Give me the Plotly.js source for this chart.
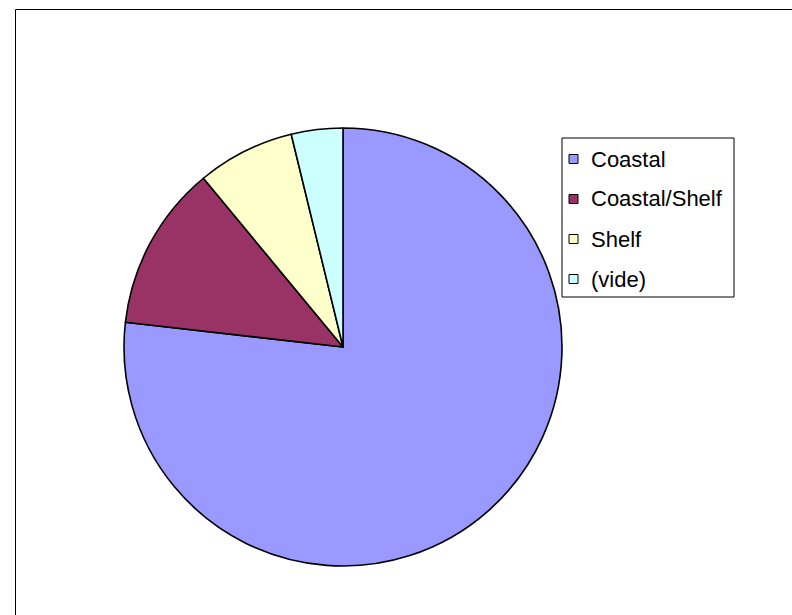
<!DOCTYPE html>
<html>
<head>
<meta charset="utf-8">
<script src="https://cdn.plot.ly/plotly-3.0.1.min.js"></script>
<style>html,body{margin:0;padding:0;background:#fff;}#chart{width:792px;height:615px;}</style>
</head>
<body>
<div id="chart"></div>
<script>
// Data
const categories = ["Coastal", "Coastal/Shelf", "Shelf", "(vide)"];
const values = [76.8, 12.2, 7.2, 3.8];
const colors = ["#9999FF", "#993366", "#FFFFCC", "#CCFFFF"];

const W = 792, H = 615;
const px = x => x / W;
const py = y => 1 - y / H;

const trace = {
  type: "pie",
  labels: categories,
  values: values,
  sort: false,
  direction: "clockwise",
  rotation: 0,
  textinfo: "none",
  hoverinfo: "label+percent",
  marker: { colors: colors, line: { color: "#000000", width: 1.6 } },
  domain: { x: [px(124), px(562)], y: [py(566), py(128)] },
  showlegend: false
};

// Custom legend built from the category arrays
const shapes = [
  // chart area border (left and top)
  { type: "line", xref: "paper", yref: "paper", x0: px(15.5), x1: px(15.5), y0: py(9.5), y1: py(620), line: { color: "#000", width: 1 } },
  { type: "line", xref: "paper", yref: "paper", x0: px(15.5), x1: px(800), y0: py(9.5), y1: py(9.5), line: { color: "#000", width: 1 } },
  // legend box
  { type: "rect", xref: "paper", yref: "paper", x0: px(562), x1: px(734), y0: py(138), y1: py(297), line: { color: "#000", width: 1 }, fillcolor: "rgba(0,0,0,0)" }
];
const annotations = [];
const rowTop = 159, rowGap = 40;
categories.forEach((c, i) => {
  const yc = rowTop + i * rowGap;
  shapes.push({ type: "rect", xref: "paper", yref: "paper", x0: px(569), x1: px(578), y0: py(yc + 4.5), y1: py(yc - 4.5), line: { color: "#000", width: 1 }, fillcolor: colors[i] });
  annotations.push({ xref: "paper", yref: "paper", x: px(589), y: py(yc), xanchor: "left", yanchor: "middle", showarrow: false, text: c, font: { family: "Liberation Sans, Arial, sans-serif", size: 22, color: "#000" } });
});

const layout = {
  width: W, height: H,
  margin: { l: 0, r: 0, t: 0, b: 0 },
  paper_bgcolor: "#fff",
  showlegend: false,
  shapes: shapes,
  annotations: annotations
};

Plotly.newPlot("chart", [trace], layout, { staticPlot: true, displayModeBar: false });
</script>
</body>
</html>
